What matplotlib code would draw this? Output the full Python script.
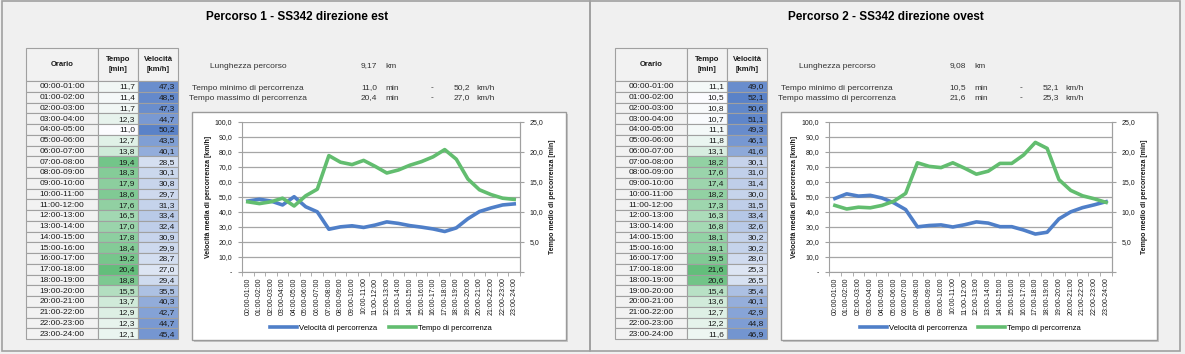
import matplotlib
matplotlib.use("Agg")
import matplotlib.pyplot as plt
import numpy as np
from matplotlib.patches import Rectangle
from matplotlib.colors import to_rgb

plt.rcParams["font.family"] = ["Liberation Sans", "DejaVu Sans"]

# -------------------------
# Data
# -------------------------
orari = [
    "00:00-01:00", "01:00-02:00", "02:00-03:00", "03:00-04:00", "04:00-05:00", "05:00-06:00",
    "06:00-07:00", "07:00-08:00", "08:00-09:00", "09:00-10:00", "10:00-11:00", "11:00-12:00",
    "12:00-13:00", "13:00-14:00", "14:00-15:00", "15:00-16:00", "16:00-17:00", "17:00-18:00",
    "18:00-19:00", "19:00-20:00", "20:00-21:00", "21:00-22:00", "22:00-23:00", "23:00-24:00",
]

titolo_1 = "Percorso 1 - SS342 direzione est"
tempo_1 = [11.7, 11.4, 11.7, 12.3, 11.0, 12.7, 13.8, 19.4, 18.3, 17.9, 18.6, 17.6,
           16.5, 17.0, 17.8, 18.4, 19.2, 20.4, 18.8, 15.5, 13.7, 12.9, 12.3, 12.1]
velocita_1 = [47.3, 48.5, 47.3, 44.7, 50.2, 43.5, 40.1, 28.5, 30.1, 30.8, 29.7, 31.3,
              33.4, 32.4, 30.9, 29.9, 28.7, 27.0, 29.4, 35.5, 40.3, 42.7, 44.7, 45.4]
lunghezza_1 = "9,17"

titolo_2 = "Percorso 2 - SS342 direzione ovest"
tempo_2 = [11.1, 10.5, 10.8, 10.7, 11.1, 11.8, 13.1, 18.2, 17.6, 17.4, 18.2, 17.3,
           16.3, 16.8, 18.1, 18.1, 19.5, 21.6, 20.6, 15.4, 13.6, 12.7, 12.2, 11.6]
velocita_2 = [49.0, 52.1, 50.6, 51.1, 49.3, 46.1, 41.6, 30.1, 31.0, 31.4, 30.0, 31.5,
              33.4, 32.6, 30.2, 30.2, 28.0, 25.3, 26.5, 35.4, 40.1, 42.9, 44.8, 46.9]
lunghezza_2 = "9,08"

# -------------------------
# Style
# -------------------------
W, H = 1185, 354
BG = "#F0F0F0"
GRID = "#A6A6A6"
BLUE = "#4F7FC8"
GREEN = "#62BD6F"
TXT = "#1A1A1A"


def fmt(v):
    return f"{v:.1f}".replace(".", ",")


def mix(c0, c1, t):
    a, b = np.array(to_rgb(c0)), np.array(to_rgb(c1))
    return tuple(a + (b - a) * t)


def draw_panel(fig, bg, ox, frame, titolo, tempo, velocita, lunghezza, box, plot):
    # panel frame + title
    fx0, fx1 = frame
    bg.add_patch(Rectangle((fx0, 1), fx1 - fx0, 350, fill=False, ec="#A0A0A0", lw=1.2))
    bg.text(ox + 297, 17, titolo, ha="center", va="center", fontsize=8.5,
            fontweight="bold", color="black")

    # table
    x0, cw = ox + 26, [72, 40, 40]
    top, hh, rh = 48, 33, 10.75
    hdr = ["Orario", "Tempo\n[min]", "Velocità\n[km/h]"]
    xs = [x0, x0 + cw[0], x0 + cw[0] + cw[1]]
    for j in range(3):
        bg.add_patch(Rectangle((xs[j], top), cw[j], hh, fc="#F2F2F2", ec="#A0A0A0", lw=0.8))
        bg.text(xs[j] + cw[j] / 2, top + hh / 2, hdr[j], ha="center", va="center",
                fontsize=5.5, fontweight="bold", color=TXT, linespacing=1.5)
    tmin, tmax = min(tempo), max(tempo)
    vmin, vmax = min(velocita), max(velocita)
    for i, lab in enumerate(orari):
        y = top + hh + i * rh
        ct = mix("#FCFCFF", "#63BE7B", (tempo[i] - tmin) / (tmax - tmin))
        cv = mix("#DDE5F3", "#5A82C8", (velocita[i] - vmin) / (vmax - vmin))
        for j, fc in enumerate(["#F2F2F2", ct, cv]):
            bg.add_patch(Rectangle((xs[j], y), cw[j], rh, fc=fc, ec="#A0A0A0", lw=0.8))
        bg.text(xs[0] + cw[0] / 2, y + rh / 2 + 0.5, lab, ha="center", va="center", fontsize=6, color=TXT)
        bg.text(xs[1] + cw[1] - 3, y + rh / 2 + 0.5, fmt(tempo[i]), ha="right", va="center", fontsize=6, color=TXT)
        bg.text(xs[2] + cw[2] - 3, y + rh / 2 + 0.5, fmt(velocita[i]), ha="right", va="center", fontsize=6, color=TXT)

    # info block
    imin, imax = int(np.argmin(tempo)), int(np.argmax(tempo))
    rows = [
        (66, "Lunghezza percorso", lunghezza, "km", None),
        (88, "Tempo minimo di percorrenza", fmt(tempo[imin]), "min", fmt(velocita[imin])),
        (98, "Tempo massimo di percorrenza", fmt(tempo[imax]), "min", fmt(velocita[imax])),
    ]
    for y, lab, val, unit, vel in rows:
        bg.text(ox + 248, y, lab, ha="center", va="center", fontsize=6, color="#333333")
        bg.text(ox + 377, y, val, ha="right", va="center", fontsize=6, color="#333333")
        bg.text(ox + 385, y, unit, ha="left", va="center", fontsize=6, color="#333333")
        if vel is not None:
            bg.text(ox + 432, y, "-", ha="center", va="center", fontsize=6, color="#333333")
            bg.text(ox + 470, y, vel, ha="right", va="center", fontsize=6, color="#333333")
            bg.text(ox + 476, y, "km/h", ha="left", va="center", fontsize=6, color="#333333")

    # chart box
    bl, bt, br, bb = box
    bg.add_patch(Rectangle((bl + 2, bt + 2), br - bl, bb - bt, fc="#C8C8C8", ec="none"))
    bg.add_patch(Rectangle((bl, bt), br - bl, bb - bt, fc="white", ec="#9A9A9A", lw=1))

    pl, pt, pr, pb = plot
    ax = fig.add_axes([pl / W, (H - pb) / H, (pr - pl) / W, (pb - pt) / H])
    ax.set_facecolor("white")
    x = np.arange(len(orari))
    l1, = ax.plot(x, velocita, color=BLUE, lw=2.6, solid_joinstyle="round",
                  label="Velocità di percorrenza")
    ax.set_xlim(-0.5, len(orari) - 0.5)
    ax.set_ylim(0, 100)
    yt = np.arange(0, 101, 10)
    ax.set_yticks(yt)
    ax.set_yticklabels(["-"] + [fmt(v) for v in yt[1:]], fontsize=5, color=TXT)
    ax.grid(axis="y", color=GRID, lw=0.9)
    ax.set_axisbelow(True)
    ax.set_xticks(x)
    ax.set_xticklabels(orari, rotation=90, fontsize=5, color=TXT)
    ax.set_xticks(np.arange(-0.5, len(orari), 1), minor=True)
    ax.tick_params(axis="x", which="major", length=0, pad=4)
    ax.tick_params(axis="x", which="minor", length=3, color="#A0A0A0")
    ax.tick_params(axis="y", length=3, color="#A0A0A0", pad=4)
    ax.spines["top"].set_visible(False)
    for s in ["left", "bottom", "right"]:
        ax.spines[s].set_color("#A0A0A0")

    ax2 = ax.twinx()
    l2, = ax2.plot(x, tempo, color=GREEN, lw=2.6, solid_joinstyle="round",
                   label="Tempo di percorrenza")
    ax2.set_ylim(0, 25)
    yt2 = np.arange(0, 26, 5)
    ax2.set_yticks(yt2)
    ax2.set_yticklabels([""] + [fmt(v) for v in yt2[1:]], fontsize=5, color=TXT)
    ax2.tick_params(axis="y", length=3, color="#A0A0A0", pad=4)
    for s in ["top", "left", "bottom"]:
        ax2.spines[s].set_visible(False)
    ax2.spines["right"].set_color("#A0A0A0")

    ax.legend([l1, l2], [l1.get_label(), l2.get_label()], loc="center",
              bbox_to_anchor=(0.5, -0.375), ncol=2, frameon=False, fontsize=5.5,
              handlelength=3.5, columnspacing=1.5, handletextpad=0.3)

    cy = (pt + pb) / 2
    bg.text(pl - 34, cy, "Velocità media di percorrenza [km/h]", rotation=90, ha="center",
            va="center", fontsize=5, fontweight="bold", color=TXT)
    bg.text(pr + 33, cy, "Tempo medio di percorrenza [min]", rotation=90, ha="center",
            va="center", fontsize=5, fontweight="bold", color=TXT)


fig = plt.figure(figsize=(W / 100, H / 100), dpi=100, facecolor=BG)
bg = fig.add_axes([0, 0, 1, 1])
bg.set_xlim(0, W)
bg.set_ylim(H, 0)
bg.axis("off")

draw_panel(fig, bg, 0, (2, 590), titolo_1, tempo_1, velocita_1, lunghezza_1,
           (192, 112, 566, 340), (242, 122, 520, 272))
draw_panel(fig, bg, 589, (590, 1180), titolo_2, tempo_2, velocita_2, lunghezza_2,
           (781, 112, 1157, 340), (829, 122, 1112, 272))

fig.savefig("out.png", dpi=100, facecolor=BG)
